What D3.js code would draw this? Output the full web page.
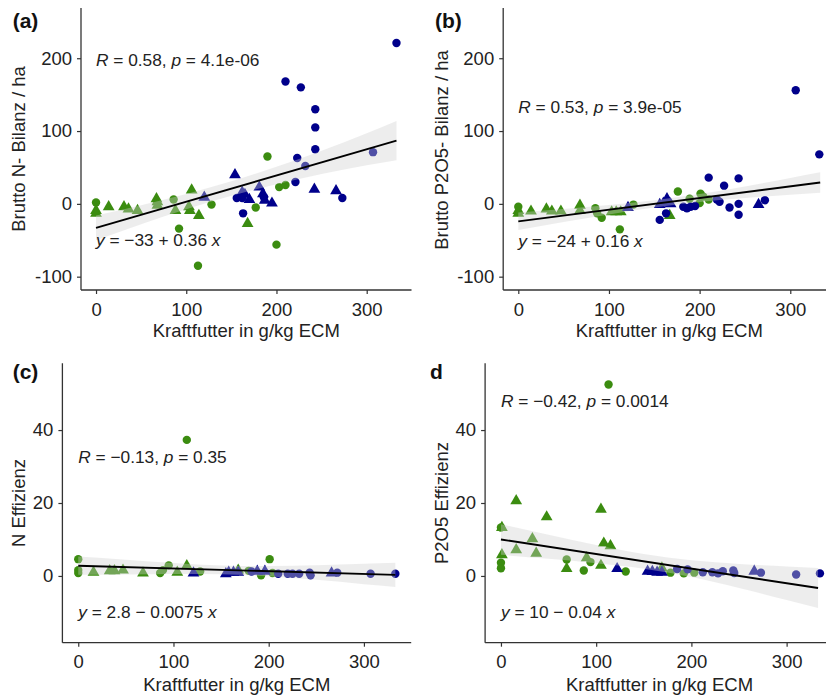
<!DOCTYPE html>
<html><head><meta charset="utf-8">
<script src="https://cdn.jsdelivr.net/npm/d3@7"></script>
<style>
body{margin:0;background:#fff}
svg{display:block}
text{font-family:"Liberation Sans",Arial,sans-serif;fill:#222}
</style>
</head><body>
<svg id="chart" width="826" height="698"></svg>
<script>
// ---------- data ----------
const panelLabels = ["(a)", "(b)", "(c)", "d"];
const yTitles = ["Brutto N- Bilanz / ha", "Brutto P2O5- Bilanz / ha", "N Effizienz", "P2O5 Effizienz"];
const xTitle = "Kraftfutter in g/kg ECM";
const xTicks = [0, 100, 200, 300];
const yTicksTop = [-100, 0, 100, 200];
const yTicksBottom = [0, 20, 40];
const intercepts = [-33, -24, 2.8, 10];
const slopes = [0.36, 0.16, -0.0075, -0.04];
const statR = ["0.58", "0.53", "\u22120.13", "\u22120.42"];
const statP = ["4.1e-06", "3.9e-05", "0.35", "0.0014"];
const eqText = ["\u221233 + 0.36", "\u221224 + 0.16", "2.8 \u2212 0.0075", "10 \u2212 0.04"];
const lineX = [0, 333];
const bandX = [0, 50, 100, 150, 200, 250, 300, 333];
const bandHalfA = [17, 13, 10.5, 10, 12, 16, 22, 27];
const bandHalfB = [12, 9, 6.5, 5, 5.5, 8, 11.5, 14];
const bandHalfC = [2.5, 2, 1.5, 1.2, 1.4, 2, 2.8, 3.3];
const bandHalfD = [4.2, 3.3, 2.5, 2, 2.3, 3.3, 4.6, 5.5];

// [x, y, group (G = green, N = navy), shape (c = circle, t = triangle)]
const pointsA = [
  [0, 2, "G", "c"], [0, -8, "G", "t"], [0, -12, "G", "t"], [14, -3, "G", "t"],
  [31, -3, "G", "t"], [36, -6, "G", "t"], [46, -8, "G", "t"], [67, 8, "G", "t"],
  [68, 4, "G", "t"], [68, -1, "G", "t"], [86, 6, "G", "c"], [88, -8, "G", "t"],
  [106, 20, "G", "t"], [103, -3, "G", "t"], [104, -8, "G", "t"], [114, -15, "G", "t"],
  [128, -1, "G", "c"], [92, -34, "G", "c"], [113, -85, "G", "c"], [168, -26, "G", "t"],
  [177, -5, "G", "c"], [190, 65, "G", "c"], [203, 23, "G", "c"], [210, 26, "G", "c"],
  [200, -56, "G", "c"],
  [120, 10, "N", "t"], [154, 41, "N", "t"], [156, 8, "N", "c"], [162, 17, "N", "t"],
  [165, 14, "N", "t"], [162, 8, "N", "c"], [163, -13, "N", "c"], [170, 7, "N", "t"],
  [181, 24, "N", "t"], [185, 15, "N", "t"], [186, 9, "N", "c"], [187, 6, "N", "t"],
  [195, 2, "N", "t"], [210, 168, "N", "c"], [227, 160, "N", "c"], [243, 130, "N", "c"],
  [243, 105, "N", "c"], [243, 75, "N", "c"], [223, 63, "N", "c"], [232, 52, "N", "c"],
  [221, 30, "N", "c"], [242, 21, "N", "t"], [266, 19, "N", "t"], [273, 8, "N", "c"],
  [307, 71, "N", "c"], [333, 221, "N", "c"]
];
const pointsB = [
  [0, -4, "G", "c"], [0, -8, "G", "t"], [0, -12, "G", "t"], [14, -9, "G", "t"],
  [31, -6, "G", "t"], [37, -9, "G", "t"], [47, -9, "G", "t"], [68, -1, "G", "t"],
  [68, -8, "G", "t"], [85, -6, "G", "c"], [87, -13, "G", "c"], [92, -19, "G", "c"],
  [103, -10, "G", "t"], [108, -10, "G", "t"], [113, -10, "G", "t"], [112, -35, "G", "c"],
  [127, -1, "G", "c"], [167, -15, "G", "t"], [176, 17, "G", "c"], [189, 7, "G", "c"],
  [200, 1, "G", "c"], [201, 14, "G", "c"], [204, 10, "G", "c"], [210, 6, "G", "c"],
  [121, -4, "N", "t"], [156, -22, "N", "c"], [156, 0, "N", "t"], [160, 2, "N", "t"],
  [164, 8, "N", "t"], [163, -13, "N", "c"], [168, 1, "N", "t"], [182, -4, "N", "c"],
  [186, -6, "N", "c"], [190, -4, "N", "c"], [195, -3, "N", "c"], [210, 36, "N", "c"],
  [219, 6, "N", "c"], [222, 3, "N", "c"], [227, 25, "N", "c"], [233, -5, "N", "c"],
  [243, 35, "N", "c"], [243, 0, "N", "c"], [243, -15, "N", "c"], [265, 0, "N", "t"],
  [272, 5, "N", "c"], [306, 156, "N", "c"], [332, 68, "N", "c"]
];
const pointsC = [
  [0, 4.6, "G", "c"], [0, 1.6, "G", "c"], [0, 0.8, "G", "c"], [16, 1.2, "G", "t"],
  [33, 1.6, "G", "t"], [38, 1.6, "G", "t"], [47, 1.8, "G", "t"], [68, 1.0, "G", "t"],
  [86, 0.8, "G", "c"], [95, 2.9, "G", "c"], [89, 1.6, "G", "c"], [104, 1.2, "G", "t"],
  [114, 3.0, "G", "t"], [114, 37.3, "G", "c"], [128, 1.2, "G", "c"], [168, 1.8, "G", "t"],
  [179, 1.4, "G", "c"], [192, 0.2, "G", "c"], [201, 4.6, "G", "c"], [204, 0.8, "G", "c"],
  [121, 1.0, "N", "t"], [155, 0.8, "N", "t"], [158, 1.2, "N", "t"], [163, 1.2, "N", "t"],
  [168, 1.2, "N", "t"], [182, 1.2, "N", "c"], [188, 1.5, "N", "t"], [196, 1.5, "N", "t"],
  [210, 0.6, "N", "c"], [220, 0.6, "N", "c"], [225, 0.6, "N", "c"], [232, 0.6, "N", "c"],
  [243, 0.9, "N", "c"], [244, 0.2, "N", "c"], [266, 1.0, "N", "t"], [272, 0.9, "N", "c"],
  [307, 0.6, "N", "c"], [333, 0.6, "N", "c"]
];
const pointsD = [
  [113, 52.5, "G", "c"], [16, 20.8, "G", "t"], [48, 16.4, "G", "t"], [105, 18.5, "G", "t"],
  [0, 13.3, "G", "c"], [1, 13.5, "G", "t"], [33, 10.4, "G", "t"], [108, 9.2, "G", "t"],
  [115, 8.5, "G", "t"], [16, 7.4, "G", "t"], [37, 6.4, "G", "t"], [1, 6.0, "G", "t"],
  [0, 3.6, "G", "c"], [0, 2.1, "G", "c"], [69, 4.5, "G", "c"], [69, 2.2, "G", "t"],
  [90, 5.2, "G", "t"], [94, 3.8, "G", "c"], [87, 1.5, "G", "c"], [105, 3.1, "G", "t"],
  [131, 1.2, "G", "c"], [169, 2.4, "G", "t"], [178, 0.9, "G", "c"], [192, 0.7, "G", "c"],
  [203, 0.9, "G", "c"],
  [122, 2.2, "N", "t"], [154, 1.5, "N", "t"], [159, 1.4, "N", "t"], [164, 1.2, "N", "t"],
  [169, 1.2, "N", "t"], [185, 1.9, "N", "c"], [196, 1.8, "N", "c"], [212, 1.0, "N", "c"],
  [222, 1.0, "N", "c"], [228, 0.7, "N", "c"], [233, 1.3, "N", "c"], [244, 1.5, "N", "c"],
  [245, 0.8, "N", "c"], [266, 1.5, "N", "t"], [273, 0.9, "N", "c"], [310, 0.4, "N", "c"],
  [335, 0.7, "N", "c"]
];

// ---------- layout ----------
const colors = { G: "#3b8c10", N: "#00008b" };
const xDom = [-16.65, 349.65];
const panels = [
  { pts: pointsA, band: bandHalfA, xr: [81, 411.5], yd: [-118.3, 269], yr: [290, 8], yt: yTicksTop,
    lab: [12.7, 28.3], stat: 66, eq: 246, yTitle: [24.5, 149], xTitle: 337 },
  { pts: pointsB, band: bandHalfB, xr: [503.2, 835.3], yd: [-118.3, 269], yr: [290, 8], yt: yTicksTop,
    lab: [435, 28.3], stat: 113.3, eq: 247, yTitle: [447.5, 150], xTitle: 337 },
  { pts: pointsC, band: bandHalfC, xr: [62.4, 411.2], yd: [-18.3, 58.3], yr: [642.7, 363.3], yt: yTicksBottom,
    lab: [12.7, 379.3], stat: 462.7, eq: 618.3, yTitle: [25, 503], xTitle: 691 },
  { pts: pointsD, band: bandHalfD, xr: [485.1, 833.9], yd: [-18.3, 58.3], yr: [642.7, 363.3], yt: yTicksBottom,
    lab: [430, 379.3], stat: 406.7, eq: 618.3, yTitle: [447.5, 503], xTitle: 691 }
];

const svg = d3.select("#chart");
const fs = 18.5;
const tri = d3.symbol().type(d3.symbolTriangle).size(60);

panels.forEach((p, i) => {
  const x = d3.scaleLinear().domain(xDom).range(p.xr);
  const y = d3.scaleLinear().domain(p.yd).range(p.yr);
  const g = svg.append("g");

  // points
  const pg = g.append("g");
  p.pts.forEach(d => {
    if (d[3] === "c") {
      pg.append("circle").attr("cx", x(d[0])).attr("cy", y(d[1])).attr("r", 4.2)
        .attr("fill", colors[d[2]]);
    } else {
      pg.append("path").attr("d", tri)
        .attr("transform", `translate(${x(d[0])},${y(d[1]) + 0.8})`)
        .attr("fill", colors[d[2]]);
    }
  });

  // confidence band (semi-transparent, drawn over points)
  const fit = v => intercepts[i] + slopes[i] * v;
  const bandData = bandX.map((bx, k) => ({ x: bx, lo: fit(bx) - p.band[k], hi: fit(bx) + p.band[k] }));
  g.append("path").datum(bandData)
    .attr("d", d3.area().x(d => x(d.x)).y0(d => y(d.lo)).y1(d => y(d.hi)).curve(d3.curveMonotoneX))
    .attr("fill", "#d0d0d0").attr("fill-opacity", 0.38);

  // regression line
  g.append("path").datum(lineX)
    .attr("d", d3.line().x(v => x(v)).y(v => y(fit(v))))
    .attr("stroke", "#000").attr("stroke-width", 1.9).attr("fill", "none");

  // axes
  const xAxis = d3.axisBottom(x).tickValues(xTicks).tickSize(4).tickPadding(6).tickSizeOuter(0);
  const xg = g.append("g").attr("transform", `translate(0,${p.yr[0]})`).call(xAxis);
  const yAxis = d3.axisLeft(y).tickValues(p.yt).tickSize(4).tickPadding(5).tickSizeOuter(0)
    .tickFormat(v => String(v));
  const yg = g.append("g").attr("transform", `translate(${p.xr[0]},0)`).call(yAxis);
  [xg, yg].forEach(a => {
    a.select(".domain").attr("stroke", "#333").attr("stroke-width", 1.3);
    a.selectAll(".tick line").attr("stroke", "#333").attr("stroke-width", 1.2);
    a.selectAll(".tick text").attr("font-size", fs).attr("fill", "#222")
      .style("font-family", '"Liberation Sans", Arial, sans-serif');
  });
  xg.selectAll(".tick text").attr("dy", null).attr("y", 25.5 - 0);
  // shift y-axis line so it starts at the plot top
  yg.select(".domain").attr("d", `M0,${p.yr[1]}V${p.yr[0]}`);
  xg.select(".domain").attr("d", `M${p.xr[0]},0H${p.xr[1]}`);

  // titles
  g.append("text").attr("x", (p.xr[0] + p.xr[1]) / 2).attr("y", p.xTitle)
    .attr("text-anchor", "middle").attr("font-size", fs).text(xTitle);
  g.append("text").attr("transform", `translate(${p.yTitle[0]},${p.yTitle[1]}) rotate(-90)`)
    .attr("text-anchor", "middle").attr("font-size", fs).text(yTitles[i]);

  // panel label
  g.append("text").attr("x", p.lab[0]).attr("y", p.lab[1]).attr("font-size", 21)
    .attr("font-weight", "bold").style("fill", "#111").text(panelLabels[i]);

  // stats
  const x0 = x(0);
  const st = g.append("text").attr("x", x0).attr("y", p.stat).attr("font-size", 17.3);
  st.append("tspan").attr("font-style", "italic").text("R");
  st.append("tspan").text(" = " + statR[i] + ", ");
  st.append("tspan").attr("font-style", "italic").text("p");
  st.append("tspan").text(" = " + statP[i]);

  const eq = g.append("text").attr("x", x0).attr("y", p.eq).attr("font-size", 17.3);
  eq.append("tspan").attr("font-style", "italic").text("y");
  eq.append("tspan").text(" = " + eqText[i] + " ");
  eq.append("tspan").attr("font-style", "italic").text("x");
});
</script>
</body></html>
